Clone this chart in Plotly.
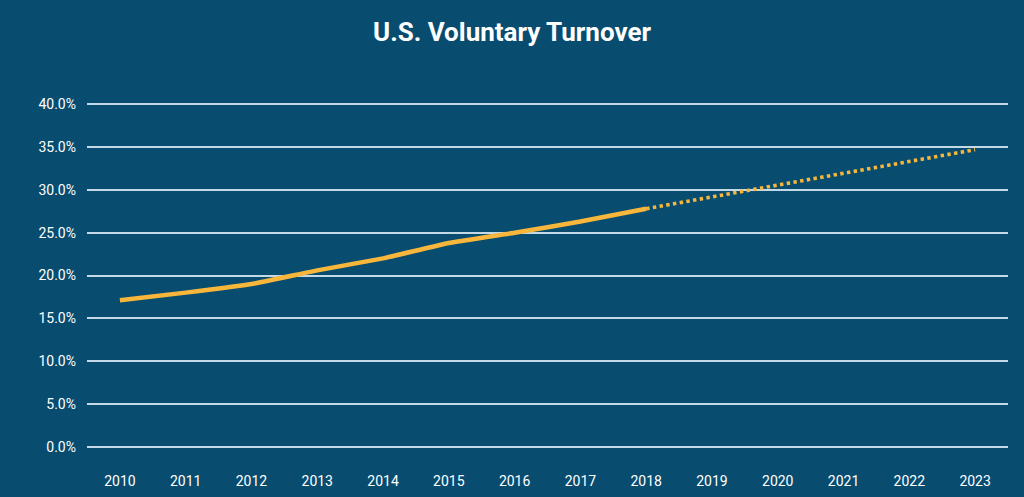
import plotly.graph_objects as go

years = ["2010", "2011", "2012", "2013", "2014", "2015", "2016", "2017", "2018",
         "2019", "2020", "2021", "2022", "2023"]
actual_years = years[:9]
actual_values = [17.1, 18.0, 19.0, 20.6, 22.0, 23.8, 25.0, 26.3, 27.8]
projected_years = years[8:]
projected_values = [27.8, 29.2, 30.6, 32.0, 33.3, 34.7]
y_tick_vals = [0, 5, 10, 15, 20, 25, 30, 35, 40]
y_tick_text = ["0.0%", "5.0%", "10.0%", "15.0%", "20.0%", "25.0%", "30.0%", "35.0%", "40.0%"]

BG = "#084c70"
LINE = "#f8b73b"
GRID = "#c3d9e5"

fig = go.Figure()
fig.add_trace(go.Scatter(x=projected_years, y=projected_values, mode="lines",
                         line=dict(color=LINE, width=3.6, dash="3.4px,3.4px"),
                         hoverinfo="skip", showlegend=False))
fig.add_trace(go.Scatter(x=actual_years, y=actual_values, mode="lines",
                         line=dict(color=LINE, width=4.5, shape="spline", smoothing=0.3),
                         showlegend=False))

fig.update_layout(
    width=1024, height=497,
    paper_bgcolor=BG, plot_bgcolor=BG,
    margin=dict(l=87, r=16, t=100, b=46, autoexpand=False),
    title=dict(text="<b>U.S. Voluntary Turnover</b>", x=0.5, xanchor="center",
               y=1 - 32 / 497, yanchor="middle", yref="container",
               font=dict(family="Roboto", size=26, color="white")),
    font=dict(family="Roboto", size=14, color="white"),
    xaxis=dict(type="category", categoryorder="array", categoryarray=years,
               range=[-0.5, 13.5], showgrid=False, zeroline=False, showline=False,
               ticks="", ticklabelstandoff=20, automargin=False,
               tickfont=dict(family="Roboto", size=14, color="white")),
    yaxis=dict(range=[-0.5, 40.5], tickvals=y_tick_vals, ticktext=y_tick_text,
               showgrid=True, gridcolor=GRID, gridwidth=2, zeroline=False,
               showline=False, ticks="", ticklabelstandoff=10, automargin=False,
               tickfont=dict(family="Roboto", size=14, color="white")),
)

fig.write_html("out.html",
               config={"displayModeBar": False},
               post_script="document.body.style.margin='0';"
                           "document.body.style.overflow='hidden';"
                           "document.body.style.background='" + BG + "';")
